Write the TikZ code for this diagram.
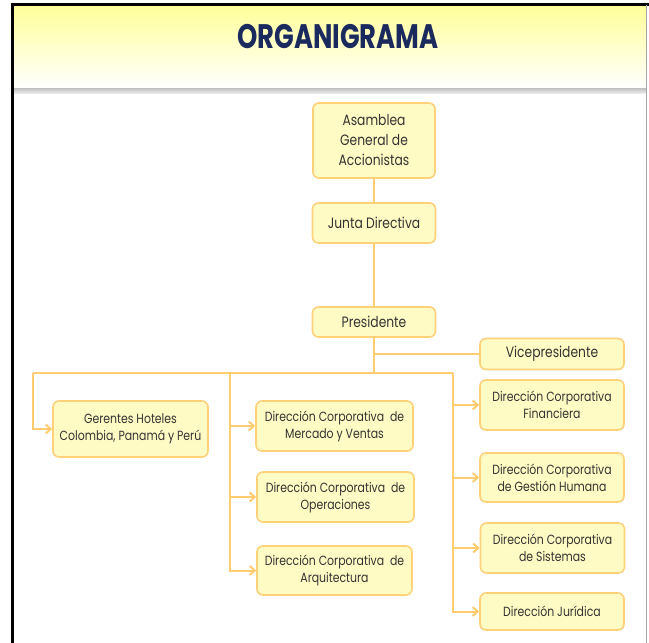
\documentclass[tikz,border=0pt]{standalone}
\usepackage{fontspec}
\setmainfont{Poppins}
\newfontfamily\boxfont[FakeStretch=0.82]{Poppins}
\newfontfamily\titlefont[FakeStretch=0.76]{Poppins}
\usetikzlibrary{arrows.meta}
\definecolor{boxfill}{HTML}{FFFBC4}
\definecolor{boxline}{HTML}{FFD27A}
\definecolor{conn}{HTML}{FFCC70}
\definecolor{txt}{HTML}{333333}
\definecolor{navy}{HTML}{1B2A5E}
\definecolor{hdr}{HTML}{FFFF99}
\begin{document}
\begin{tikzpicture}[x=1pt,y=-1pt,
  orgbox/.style={draw=boxline, line width=1.6pt, fill=boxfill, rounded corners=6pt,
    align=center, text=txt, font=\boxfont\fontsize{13.3}{17}\selectfont, inner sep=2pt},
  bigtext/.style={font=\boxfont\fontsize{15}{20}\selectfont},
  conline/.style={draw=conn, line width=2pt},
  conarrow/.style={conline, -{Straight Barb[length=5pt,width=9pt,line width=2pt]}}]
\useasboundingbox (0,0) rectangle (649,643);
\fill[white] (0,0) rectangle (649,643);
% header
\shade[top color=hdr, bottom color=white] (12,5) rectangle (646,88);
\shade[top color=black!25, bottom color=black!8] (12,88) rectangle (646,93);
\draw[black, line width=2.2pt] (12.5,643) -- (12.5,4.5) -- (649,4.5);
\draw[black!35, line width=1pt] (646.5,5) -- (646.5,643);
\node (title) at (338,37) {\titlefont\bfseries\color{navy}\fontsize{34}{36}\selectfont ORGANIGRAMA};
% boxes
\node[orgbox, bigtext, minimum width=122pt, minimum height=75pt] (asam) at (374,140.5) {Asamblea\\General de\\Accionistas};
\node[orgbox, bigtext, minimum width=123pt, minimum height=40pt] (junta) at (374,223) {Junta Directiva};
\node[orgbox, bigtext, minimum width=123pt, minimum height=30pt] (pres) at (374,322) {Presidente};
\node[orgbox, bigtext, minimum width=144pt, minimum height=31pt] (vice) at (552,354) {Vicepresidente};
\node[orgbox, minimum width=144pt, minimum height=50pt] (fin) at (552,405) {Dirección Corporativa\\Financiera};
\node[orgbox, minimum width=144pt, minimum height=49pt] (gh) at (552,477.5) {Dirección Corporativa\\de Gestión Humana};
\node[orgbox, minimum width=144pt, minimum height=50pt] (sis) at (552.5,548) {Dirección Corporativa\\de Sistemas};
\node[orgbox, minimum width=144pt, minimum height=37pt] (jur) at (552,611.5) {Dirección Jurídica};
\node[orgbox, minimum width=155pt, minimum height=56pt] (ger) at (130.5,429) {Gerentes Hoteles\\Colombia, Panamá y Perú};
\node[orgbox, minimum width=157pt, minimum height=50pt] (mer) at (334.5,426) {Dirección Corporativa~ de\\Mercado y Ventas};
\node[orgbox, minimum width=157pt, minimum height=50pt] (ope) at (335.5,497) {Dirección Corporativa~ de\\Operaciones};
\node[orgbox, minimum width=155pt, minimum height=49pt] (arq) at (334.5,570.5) {Dirección Corporativa~ de\\Arquitectura};
% connectors
\coordinate (J) at (374,373);
\coordinate (V) at (374,354);
\coordinate (L) at (33,373);
\coordinate (M) at (230,373);
\coordinate (R) at (453,373);
\draw[conline] (asam) -- (junta);
\draw[conline] (junta) -- (pres);
\draw[conline] (pres.south) -- (J);
\draw[conline] (V) -- (vice.west);
\draw[conline] (L) -- (R);
\draw[conarrow] (L) |- (ger.west);
\draw[conarrow] (M) |- (mer.west);
\draw[conarrow] (M) |- (ope.west);
\draw[conarrow] (M) |- (arq.west);
\draw[conarrow] (R) |- (fin.west);
\draw[conarrow] (R) |- (gh.west);
\draw[conarrow] (R) |- (sis.west);
\draw[conarrow] (R) |- (jur.west);
\end{tikzpicture}
\end{document}
